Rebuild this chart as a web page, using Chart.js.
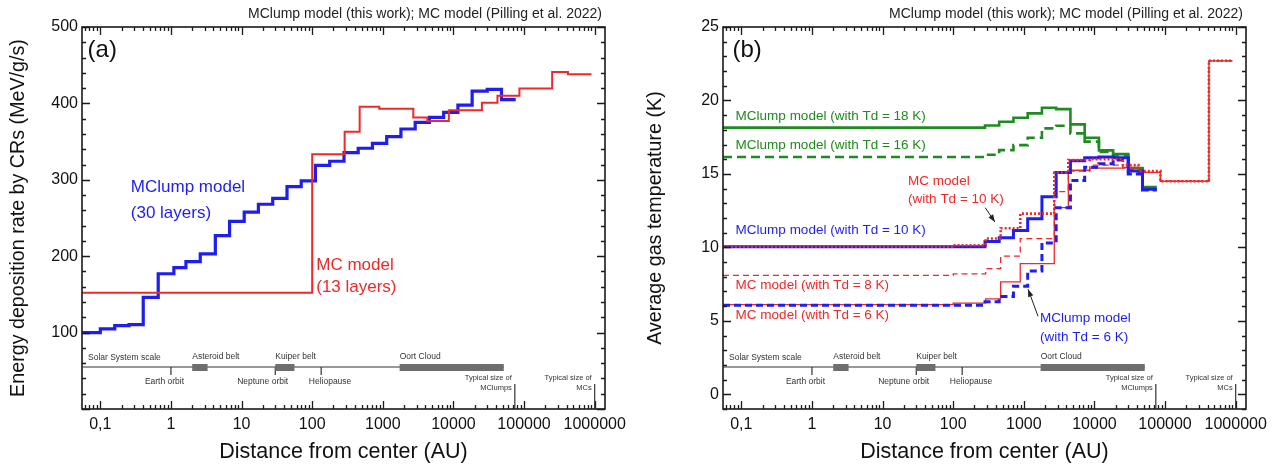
<!DOCTYPE html>
<html>
<head>
<meta charset="utf-8">
<script src="https://cdn.jsdelivr.net/npm/chart.js"></script>
<style>
html, body { margin: 0; padding: 0; background: #fff; }
#wrap { position: relative; width: 1274px; height: 469px; }
.panel { position: absolute; top: 0; width: 637px; height: 469px; }
</style>
</head>
<body>
<div id="wrap">
  <div class="panel" style="left:0"><canvas id="chartA" width="637" height="469"></canvas></div>
  <div class="panel" style="left:637px"><canvas id="chartB" width="637" height="469"></canvas></div>
</div>
<script>
const FONT = "'Liberation Sans', Arial, sans-serif";
Chart.defaults.font.family = FONT;

const xMin = 0.055, xMax = 1400000;
const xTickValues = [0.1, 1, 10, 100, 1000, 10000, 100000, 1000000];
const xTickLabels = ['0,1', '1', '10', '100', '1000', '10000', '100000', '1000000'];

// layer boundaries (AU)
const mclumpEdges = [0.055, 0.1, 0.16, 0.255, 0.405, 0.66, 1.1, 1.63, 2.6, 4.25, 6.76, 10.9, 17.3, 27.6, 44, 69.9,
  111, 177, 282, 448, 713, 1135, 1805, 2873, 4571, 7270, 11570, 18400, 30100, 47900, 76200];
const mcEdges = [0.055, 100, 288, 470, 890, 2700, 4270, 8600, 25300, 42000, 86000, 250000, 418000, 900000];

// panel (a): energy deposition rate (MeV/g/s)
const mclumpRate = [100, 105, 109, 110.5, 146, 177, 185, 193, 203, 227, 245.6, 257.8, 268, 275.6, 291, 298.7,
  319, 324.3, 335.6, 341.3, 347.8, 356.5, 366.5, 375.2, 381.7, 388.3, 397.8, 416, 418.3, 405];
const mcRate = [152, 333.5, 363, 395.7, 393, 381.6, 377, 391, 401, 410, 419.6, 441, 438];

// panel (b): average gas temperature (K)
const mclumpTd18 = [18.15, 18.15, 18.15, 18.15, 18.15, 18.15, 18.15, 18.15, 18.15, 18.15, 18.15, 18.15, 18.15, 18.15, 18.15,
  18.15, 18.15, 18.15, 18.3, 18.55, 18.82, 19.12, 19.5, 19.41, 18.37, 17.46, 16.6, 16.35, 15.4, 14.1];
const mclumpTd16 = [16.15, 16.15, 16.15, 16.15, 16.15, 16.15, 16.15, 16.15, 16.15, 16.15, 16.15, 16.15, 16.15, 16.15, 16.15,
  16.15, 16.15, 16.15, 16.3, 16.62, 16.96, 17.46, 18.1, 18.28, 17.76, 17.2, 16.5, 16.25, 15.35, 14.05];
const mclumpTd10 = [10.05, 10.05, 10.05, 10.05, 10.05, 10.05, 10.05, 10.05, 10.05, 10.05, 10.05, 10.05, 10.05, 10.05, 10.05,
  10.05, 10.05, 10.05, 10.4, 10.65, 11.15, 11.95, 13.44, 15.1, 15.9, 16.1, 16.15, 16.1, 15.2, 13.95];
const mclumpTd6 = [6.07, 6.07, 6.07, 6.07, 6.07, 6.07, 6.07, 6.07, 6.07, 6.07, 6.07, 6.07, 6.07, 6.07, 6.07,
  6.07, 6.07, 6.07, 6.3, 6.65, 7.35, 8.4, 10.3, 12.7, 14.55, 15.45, 15.7, 15.95, 15.0, 13.9];
const mcTd10 = [10.05, 10.15, 10.6, 11.3, 12.3, 15.1, 15.95, 16.0, 15.6, 15.2, 14.5, 14.5, 22.7];
const mcTd8 = [8.1, 8.2, 8.55, 9.4, 10.6, 13.8, 15.2, 15.6, 15.4, 15.1, 14.5, 14.5, 22.7];
const mcTd6 = [6.1, 6.2, 6.5, 7.65, 8.9, 12.7, 15.25, 15.4, 15.45, 15.1, 14.5, 14.5, 22.7];

// solar system scale bar
const solarTicks = [1, 30, 134];
const solarTickLabels = ['Earth orbit', 'Neptune orbit', 'Heliopause'];
const solarTickLabelAt = [0.81, 19.9, 179];
const solarBelts = [[2.0, 3.3], [30, 56], [1730, 51600]];
const solarBeltLabels = ['Asteroid belt', 'Kuiper belt', 'Oort Cloud'];
const sizeMarks = [74000, 1000000];
const sizeMarkLabels = [['Typical size of', 'MClumps'], ['Typical size of', 'MCs']];

const BLUE = '#1e1ef0', RED = '#f02828', GREEN = '#1f8a1f';

function steps(edges, vals) {
  const pts = vals.map((v, i) => ({ x: edges[i], y: v }));
  pts.push({ x: edges[vals.length], y: vals[vals.length - 1] });
  return pts;
}

function line(data, color, width, dash) {
  return { data, borderColor: color, borderWidth: width, borderDash: dash || [], stepped: true,
    pointRadius: 0, fill: false, tension: 0, borderCapStyle: 'butt' };
}

function txt(ctx, s, x, y, size, color, align) {
  ctx.font = size + 'px ' + FONT;
  ctx.fillStyle = color;
  ctx.textAlign = align || 'left';
  ctx.textBaseline = 'middle';
  ctx.fillText(s, x, y);
}

function arrow(ctx, x1, y1, x2, y2) {
  const ang = Math.atan2(y2 - y1, x2 - x1);
  ctx.strokeStyle = '#222'; ctx.fillStyle = '#222'; ctx.lineWidth = 1;
  ctx.beginPath(); ctx.moveTo(x1, y1); ctx.lineTo(x2, y2); ctx.stroke();
  ctx.beginPath();
  ctx.moveTo(x2, y2);
  ctx.lineTo(x2 - 8 * Math.cos(ang - 0.35), y2 - 8 * Math.sin(ang - 0.35));
  ctx.lineTo(x2 - 8 * Math.cos(ang + 0.35), y2 - 8 * Math.sin(ang + 0.35));
  ctx.closePath(); ctx.fill();
}

const deco = {
  id: 'deco',
  afterDatasetsDraw(chart, args, o) {
    const { ctx, chartArea: a } = chart;
    const xs = chart.scales.x, ys = chart.scales.y;
    const X = v => xs.getPixelForValue(v), Y = v => ys.getPixelForValue(v);
    ctx.save();

    // frame + inward ticks
    ctx.strokeStyle = '#1a1a1a'; ctx.lineWidth = 1.6;
    ctx.strokeRect(a.left, a.top, a.right - a.left, a.bottom - a.top);
    ctx.lineWidth = 1.3;
    ctx.beginPath();
    for (let e = -2; e <= 6; e++) {
      for (let m = 1; m <= 9; m++) {
        const v = m * Math.pow(10, e);
        if (v < xMin || v > xMax) continue;
        const px = Math.round(X(v)) + 0.5, len = m === 1 ? 8 : 4;
        ctx.moveTo(px, a.bottom); ctx.lineTo(px, a.bottom - len);
        ctx.moveTo(px, a.top); ctx.lineTo(px, a.top + len);
      }
    }
    for (let k = 0; o.yMin + k * o.yMinor <= o.yMax + 1e-9; k++) {
      const v = o.yMin + k * o.yMinor;
      const py = Math.round(Y(v)) + 0.5;
      const len = Math.abs(v % o.yMajor) < 1e-9 ? 8 : 4;
      ctx.moveTo(a.left, py); ctx.lineTo(a.left + len, py);
      ctx.moveTo(a.right, py); ctx.lineTo(a.right - len, py);
    }
    ctx.stroke();

    // solar system scale bar
    const ly = a.bottom - 42;
    ctx.strokeStyle = '#333'; ctx.lineWidth = 1.2;
    ctx.beginPath();
    ctx.moveTo(a.left, ly); ctx.lineTo(X(solarBelts[2][1]), ly);
    solarTicks.forEach(v => { ctx.moveTo(X(v), ly); ctx.lineTo(X(v), ly + 8); });
    sizeMarks.forEach(v => { ctx.moveTo(X(v), ly + 17); ctx.lineTo(X(v), a.bottom); });
    ctx.stroke();
    ctx.fillStyle = '#6e6e6e';
    solarBelts.forEach(b => ctx.fillRect(X(b[0]), ly - 3, X(b[1]) - X(b[0]), 7));
    txt(ctx, 'Solar System scale', a.left + 6, ly - 9, 8.5, '#333');
    solarBelts.forEach((b, i) => txt(ctx, solarBeltLabels[i], X(b[0]), ly - 10, 8.5, '#333'));
    solarTicks.forEach((v, i) => txt(ctx, solarTickLabels[i], X(solarTickLabelAt[i]), ly + 15, 8.5, '#333', 'center'));
    sizeMarks.forEach((v, i) => {
      txt(ctx, sizeMarkLabels[i][0], X(v) - 3, ly + 11, 7.5, '#333', 'right');
      txt(ctx, sizeMarkLabels[i][1], X(v) - 3, ly + 21, 7.5, '#333', 'right');
    });

    // labels and arrows
    o.labels.forEach(l => txt(ctx, l.text, X(l.x), Y(l.y), l.size, l.color, 'left'));
    (o.arrows || []).forEach(r => arrow(ctx, X(r[0]), Y(r[1]), X(r[2]), Y(r[3])));

    txt(ctx, 'MClump model (this work); MC model (Pilling et al. 2022)', a.right - 3, a.top - 13, 14, '#222', 'right');
    ctx.restore();
  }
};

function makeChart(id, datasets, yCfg, plotLeft, padRight, decoOpts) {
  return new Chart(document.getElementById(id), {
    type: 'line',
    data: { datasets },
    plugins: [deco],
    options: {
      responsive: false, animation: false, devicePixelRatio: 1,
      layout: { padding: { top: 27, right: padRight, bottom: 0, left: 0 } },
      plugins: { legend: { display: false }, tooltip: { enabled: false }, deco: decoOpts },
      scales: {
        x: {
          type: 'logarithmic', min: xMin, max: xMax,
          afterBuildTicks: s => { s.ticks = xTickValues.map(v => ({ value: v })); },
          afterFit: s => { s.height = 60; s.paddingLeft = 0; s.paddingRight = 0; },
          grid: { display: false, drawTicks: false }, border: { display: false },
          ticks: { font: { size: 16 }, color: '#111', padding: 6, maxRotation: 0, autoSkip: false,
            callback: (v, i) => xTickLabels[i] },
          title: { display: true, text: 'Distance from center (AU)', font: { size: 21.5 }, color: '#111',
            padding: { top: 0, bottom: 4 } }
        },
        y: {
          type: 'linear', min: yCfg.min, max: yCfg.max,
          afterBuildTicks: s => { s.ticks = yCfg.ticks.map(v => ({ value: v })); },
          afterFit: s => { s.width = plotLeft; s.paddingTop = 0; s.paddingBottom = 0; },
          grid: { display: false, drawTicks: false }, border: { display: false },
          ticks: { font: { size: 16 }, color: '#111', padding: 4 },
          title: { display: true, text: yCfg.title, font: { size: 19.7 }, color: '#111',
            padding: { top: 7, bottom: 0 } }
        }
      }
    }
  });
}

makeChart('chartA', [
  line(steps(mcEdges, mcRate), RED, 2),
  line(steps(mclumpEdges, mclumpRate), BLUE, 3.2)
], { min: 0, max: 500, ticks: [100, 200, 300, 400, 500], title: 'Energy deposition rate by CRs (MeV/g/s)' },
82, 32, {
  yMin: 0, yMax: 500, yMinor: 20, yMajor: 100,
  labels: [
    { text: '(a)', x: 0.066, y: 470, size: 24, color: '#111' },
    { text: 'MClump model', x: 0.27, y: 290, size: 17, color: BLUE },
    { text: '(30 layers)', x: 0.27, y: 256, size: 17, color: BLUE },
    { text: 'MC model', x: 114, y: 188, size: 17, color: RED },
    { text: '(13 layers)', x: 114, y: 159, size: 17, color: RED }
  ]
});

makeChart('chartB', [
  line(steps(mcEdges, mcTd10), RED, 2.6, [2, 2]),
  line(steps(mclumpEdges, mclumpTd10), BLUE, 3),
  line(steps(mclumpEdges, mclumpTd6), BLUE, 3, [7, 4]),
  line(steps(mcEdges, mcTd6), RED, 1.3),
  line(steps(mcEdges, mcTd8), RED, 1.3, [6, 4]),
  line(steps(mclumpEdges, mclumpTd18), GREEN, 2.6),
  line(steps(mclumpEdges, mclumpTd16), GREEN, 2.6, [9, 5])
], { min: -1, max: 25, ticks: [0, 5, 10, 15, 20, 25], title: 'Average gas temperature (K)' },
86, 28, {
  yMin: -1, yMax: 25, yMinor: 1, yMajor: 5,
  labels: [
    { text: '(b)', x: 0.075, y: 23.43, size: 24, color: '#111' },
    { text: 'MClump model (with Td = 18 K)', x: 0.083, y: 18.94, size: 13.5, color: GREEN },
    { text: 'MClump model (with Td = 16 K)', x: 0.083, y: 16.96, size: 13.5, color: GREEN },
    { text: 'MC model', x: 23, y: 14.51, size: 13.5, color: RED },
    { text: '(with Td = 10 K)', x: 23, y: 13.28, size: 13.5, color: RED },
    { text: 'MClump model (with Td = 10 K)', x: 0.083, y: 11.17, size: 13.5, color: BLUE },
    { text: 'MC model (with Td = 8 K)', x: 0.083, y: 7.43, size: 13.5, color: RED },
    { text: 'MC model (with Td = 6 K)', x: 0.083, y: 5.38, size: 13.5, color: RED },
    { text: 'MClump model', x: 1700, y: 5.18, size: 13.5, color: BLUE },
    { text: '(with Td = 6 K)', x: 1700, y: 3.88, size: 13.5, color: BLUE }
  ],
  arrows: [[285, 12.7, 390, 11.72], [1590, 5.31, 1150, 7.15]]
});
</script>
</body>
</html>
